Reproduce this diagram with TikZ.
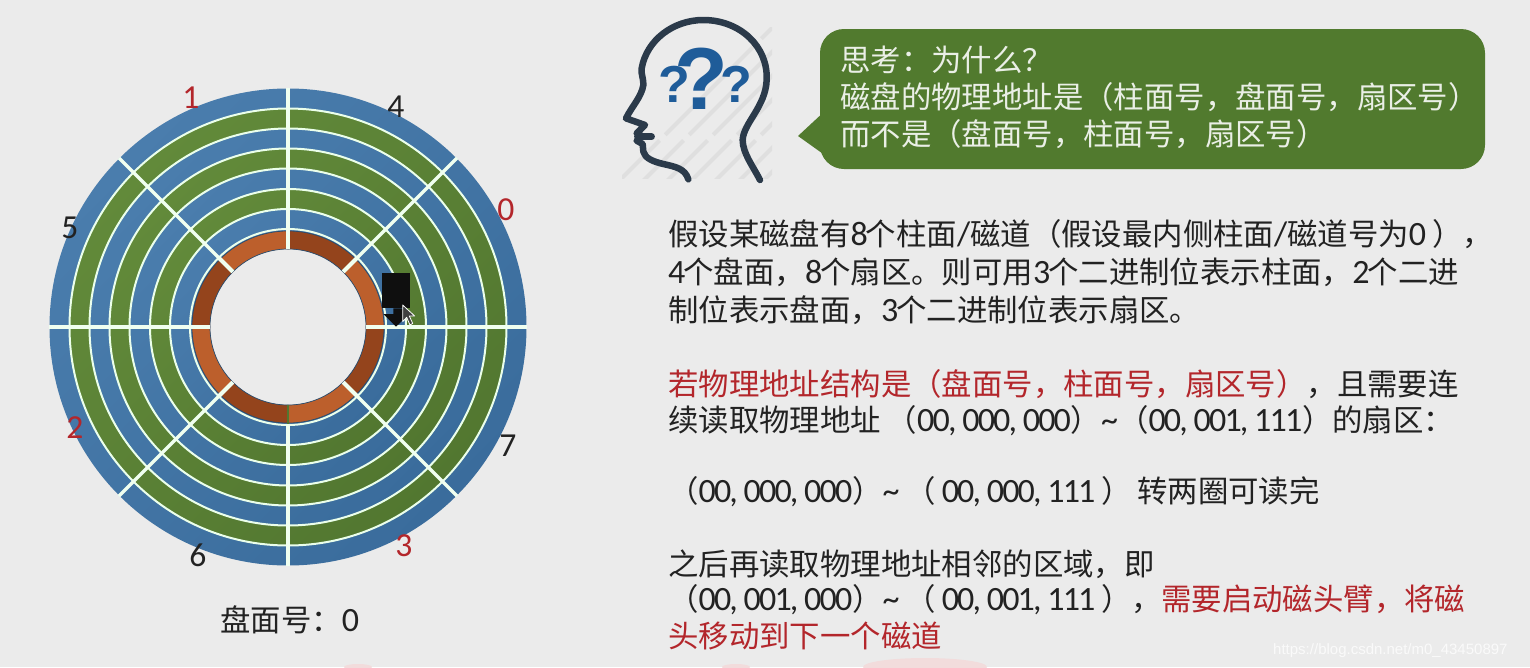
\documentclass[tikz,border=0pt]{standalone}
\usepackage{fontspec}
\setmainfont[Numbers=Lining,Scale=1.12,LetterSpace=-5.5]{Carlito}
\newfontfamily\cjk{Noto Sans CJK SC}
\newfontfamily\wmfont{Liberation Sans}
\newcommand{\zh}[1]{{\cjk #1}}
\newcommand{\tgt}{\hspace{-2pt}}
\definecolor{bgc}{HTML}{EBEBEB}
\definecolor{blueL}{HTML}{4A7DAD}
\definecolor{blueD}{HTML}{3A6C9C}
\definecolor{greenL}{HTML}{628A3A}
\definecolor{greenD}{HTML}{527730}
\definecolor{orL}{HTML}{BC5F2C}
\definecolor{orD}{HTML}{94441C}
\definecolor{redt}{HTML}{B3262B}
\definecolor{blackt}{HTML}{222222}
\definecolor{bubble}{HTML}{517A2E}
\definecolor{headc}{HTML}{2B3A4A}
\definecolor{qc}{HTML}{1F5C99}
\tikzset{
  txt/.style={inner sep=0pt,anchor=base west,text=blackt,font=\fontsize{30.4}{36}\selectfont},
  rtxt/.style={txt,text=redt},
  btxt/.style={txt,text=white!88!bubble},
  num/.style={inner sep=0pt,anchor=center,text=blackt,font=\fontsize{30}{34}\selectfont},
  rnum/.style={num,text=redt},
  bluering/.style={top color=blueL,bottom color=blueD,shading angle=45},
  greenring/.style={top color=greenL,bottom color=greenD,shading angle=45},
  whitering/.style={draw=white!92!green,line width=2pt},
  spoke/.style={draw=white!94!green,line width=3.2pt},
  gapspoke/.style={draw=white!94!green,line width=4pt},
  qmark/.style={inner sep=0pt,anchor=center,text=qc}
}
\begin{document}
\begin{tikzpicture}[x=1pt,y=-1pt]
\useasboundingbox (0,0) rectangle (1530,667);
\fill[bgc] (0,0) rectangle (1530,667);
% faint pink traces at the bottom edge
\fill[pink!35!bgc] (358,667) ellipse [x radius=14,y radius=3];
\fill[pink!35!bgc] (736,667) ellipse [x radius=14,y radius=3];
\fill[pink!35!bgc] (925,667) ellipse [x radius=62,y radius=9];
% disc
\begin{scope}[shift={(288,327)},x=1pt,y=1pt]
  \shade[bluering] (0,0) circle[radius=238.5pt];
  \shade[greenring] (0,0) circle[radius=218.5pt];
  \shade[bluering] (0,0) circle[radius=198.5pt];
  \shade[greenring] (0,0) circle[radius=178.5pt];
  \shade[bluering] (0,0) circle[radius=158.5pt];
  \shade[greenring] (0,0) circle[radius=138pt];
  \shade[bluering] (0,0) circle[radius=118pt];
  \foreach \r in {218.5,198.5,178.5,158.5,138,118,98}
    \draw[whitering] (0,0) circle[radius=\r pt];
  \fill[bgc] (0,0) circle[radius=78pt];
  \foreach \a/\c in {0/orL,45/orD,90/orL,135/orD,180/orL,225/orD,270/orL,315/orD}{
    \pgfmathsetmacro{\b}{\a+45}
    \draw[draw=blueD!70!black,line width=0.7pt,fill=\c]
      (\a:96pt) arc[start angle=\a,end angle=\b,radius=96pt]
      -- (\b:78pt) arc[start angle=\b,end angle=\a,radius=78pt] -- cycle;
  }
  \foreach \a in {0,45,90,135,180,225,315}{
    \draw[spoke] (\a:98pt) -- (\a:239pt);
    \draw[gapspoke] (\a:78pt) -- (\a:98pt);
  }
  \draw[spoke] (270:98pt) -- (270:239pt);
  \draw[greenD,line width=1.5pt] (270:78pt) -- (270:97pt);
\end{scope}
% sector numbers
\node[rnum] (n1) at (191,98) {1};
\node[num]  (n4) at (396,107) {4};
\node[rnum] (n0) at (506,210) {0};
\node[num]  (n5) at (70,228) {5};
\node[rnum] (n2) at (75,428) {2};
\node[num]  (n7) at (508,446) {7};
\node[num]  (n6) at (198,555) {6};
\node[rnum] (n3) at (404,546) {3};
% head marker and mouse pointer
\begin{scope}[shift={(40,80)},x=0.33333pt,y=-0.33333pt]
  \fill[black!94] (1025,580) rectangle (1110,685);
  \fill[black!94] (1030,702) -- (1060,702) -- (1060,685) -- (1085,685) -- (1110,700) -- (1068,740) -- cycle;
  \draw[white,line width=0.8pt,fill=black!75,line join=round]
    (1088,675) -- (1088,725) -- (1100,712) -- (1110,735) -- (1118,730) -- (1108,708) -- (1124,708) -- cycle;
\end{scope}
\node[txt,anchor=base west] (disk) at (220,631) {\zh{盘面号：}0};
% thinking head
\begin{scope}
  \clip (622,27) rectangle (772,178);
  \foreach \k in {0,24,...,312}
    \draw[black!5!bgc,line width=4pt,dash pattern=on 70pt off 8pt on 130pt off 6pt] (620+\k-10,190) -- (620+\k+170-10,20);
\end{scope}
\begin{scope}[shift={(600,10)},x=0.33333pt,y=-0.33333pt]
  \draw[headc,line width=6.5pt,line cap=round,line join=round]
    (265,508) .. controls (255,475) and (225,470) .. (190,462)
    .. controls (160,455) and (135,445) .. (130,425)
    -- (128,402) -- (110,392) -- (125,378) -- (110,370) -- (135,345) -- (78,325)
    .. controls (95,290) and (125,260) .. (130,225)
    .. controls (130,200) and (122,190) .. (125,175)
    .. controls (140,90) and (220,30) .. (310,30)
    .. controls (420,30) and (505,110) .. (500,210)
    .. controls (497,290) and (430,340) .. (428,390)
    .. controls (428,430) and (460,470) .. (480,510);
  \draw[headc,line width=6.5pt,line cap=round] (112,380) -- (155,380);
  \node[qmark,font=\wmfont\bfseries\fontsize{88}{88}\selectfont] (qb) at (305,205) {?};
  \node[qmark,font=\wmfont\bfseries\fontsize{52}{52}\selectfont] (ql) at (222,222) {?};
  \node[qmark,font=\wmfont\bfseries\fontsize{52}{52}\selectfont] (qr) at (408,222) {?};
\end{scope}
% speech bubble
\fill[bubble] (798,136) -- (826,110) -- (826,156) -- cycle;
\fill[bubble,rounded corners=24pt] (820,29) rectangle (1485,169);
\node[btxt] (b1) at (840,71) {\zh{思考：为什么？}};
\node[btxt] (b2) at (840,108) {\zh{磁盘的物理地址是（柱面号，盘面号，扇区号）}};
\node[btxt] (b3) at (840,145) {\zh{而不是（盘面号，柱面号，扇区号）}};
% body text
\node[txt] (l1) at (668,245) {\zh{假设某磁盘有}8\tgt\zh{个柱面}/\zh{磁道（假设最内侧柱面}/\zh{磁道号为}0 \zh{），}};
\node[txt] (l2) at (668,283) {4\tgt\zh{个盘面，}8\tgt\zh{个扇区。则可用}3\tgt\zh{个二进制位表示柱面，}2\tgt\zh{个二进}};
\node[txt] (l3) at (668,321) {\zh{制位表示盘面，}3\tgt\zh{个二进制位表示扇区。}};
\node[txt] (l4) at (668,395) {\textcolor{redt}{\zh{若物理地址结构是（盘面号，柱面号，扇区号）}}\zh{，且需要连}};
\node[txt] (l5) at (668,431) {\zh{续读取物理地址} \zh{（}00, 000, 000\zh{）}\textasciitilde\zh{（}00, 001, 111\zh{）的扇区：}};
\node[txt] (l6) at (668,502) {\zh{（}00, 000, 000\zh{）}\textasciitilde\hspace{6pt}\zh{（} 00, 000, 111 \zh{）} \zh{转两圈可读完}};
\node[txt] (l7) at (668,575) {\zh{之后再读取物理地址相邻的区域，即}};
\node[txt] (l8) at (668,610) {\zh{（}00, 001, 000\zh{）}\textasciitilde\hspace{6pt}\zh{（} 00, 001, 111 \zh{），}};
\node[rtxt] (l8b) at (1161,610) {\zh{需要启动磁头臂，将磁}};
\node[rtxt] (l9) at (668,647) {\zh{头移动到下一个磁道}};
% watermark
\node[inner sep=0pt,anchor=base west,text=white!75!bgc,font=\wmfont\fontsize{15}{18}\selectfont] (wm) at (1273,654) {https://blog.csdn.net/m0\_43450897};
\end{tikzpicture}
\end{document}
